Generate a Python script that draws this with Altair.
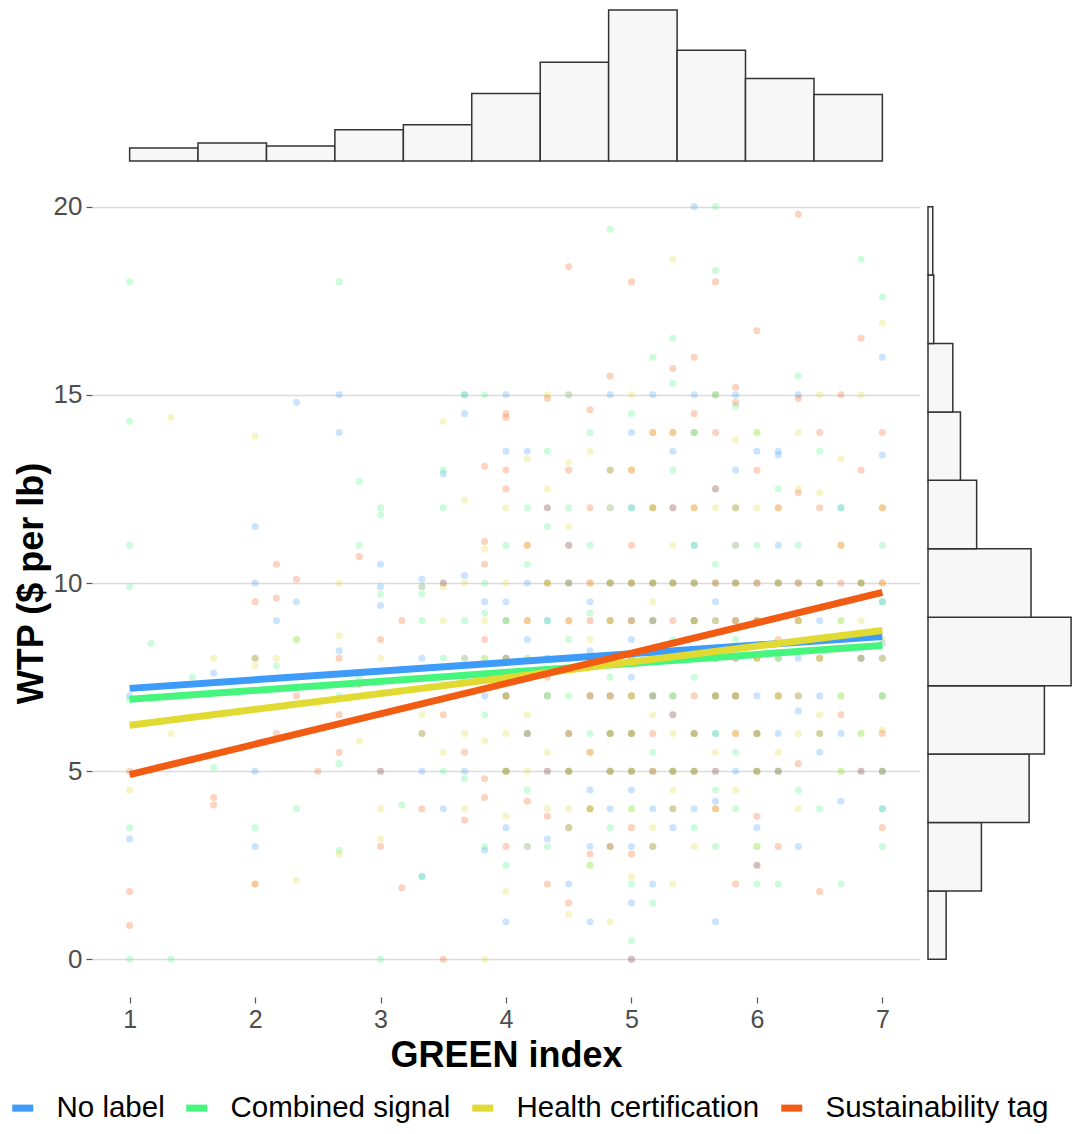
import altair as alt
import pandas as pd

series_names = ["No label", "Combined signal", "Health certification", "Sustainability tag"]
series_colors = ["#3D9BFA", "#45F57D", "#E0DA33", "#F25B12"]

# scatter points: GREEN index -> list of WTP values
no_label_pts = {
    1: [7.0, 3.2], 1.67: [7.6], 2: [11.5, 10, 5, 3], 2.17: [9], 2.33: [14.8, 9.5],
    2.67: [15, 14, 8.2], 3: [10.5, 9.9, 9.4, 5], 3.33: [10.1, 9.9, 8, 5, 2.2],
    3.5: [10, 12.9, 4], 3.67: [15, 14.5, 10.2, 8, 5], 3.83: [9.5, 7, 2.9],
    4: [15, 13.5, 9.5, 9, 8, 7, 5, 3.5, 1], 4.17: [13.5, 10, 8.5, 6, 3],
    4.33: [12, 9, 7, 5, 3.2], 4.5: [15, 11, 10, 8, 6, 5, 2], 4.67: [9.5, 8.2, 7, 4.5, 3, 1],
    4.83: [15, 12, 10, 8, 7, 6, 5, 4, 3], 5: [14, 12, 10, 9, 8.5, 7.5, 6, 5, 4.5, 3, 1.5, 0],
    5.17: [15, 10, 9, 8, 7, 5, 4, 2], 5.33: [13.5, 12, 10, 8, 7, 6.5, 5, 3.5],
    5.5: [20, 15, 14, 11, 10, 9, 8, 6, 5, 4], 5.67: [15, 12.5, 10, 9.5, 8, 7, 6, 5, 4.2, 1],
    5.83: [15, 13, 11, 10, 9, 8, 7, 5], 6: [13.5, 10, 9, 7, 6, 5, 3.5, 2.5],
    6.17: [13.5, 13.4, 11, 10, 8, 6, 5], 6.33: [15, 10, 8, 6.6, 3], 6.5: [10, 9, 7, 5.5],
    6.67: [12, 9.5, 6, 4.2], 6.83: [10, 8, 5], 7: [16, 13.4, 9.5, 8.4, 7, 5, 4],
}
combined_pts = {
    1: [18, 14.3, 11, 9.9, 6.9, 3.5, 0], 1.17: [8.4, 5], 1.33: [0], 1.5: [7.5], 1.67: [5.1],
    2: [8, 3.5], 2.17: [7.8], 2.33: [8.5, 4], 2.67: [18, 7, 5.2, 2.9], 2.83: [12.7, 11, 7.5],
    3: [12, 11.8, 9.7, 0], 3.17: [4.1], 3.33: [9.7, 9, 6, 2.2], 3.5: [13, 12, 8, 5],
    3.67: [15, 9, 7.5, 4.8], 3.83: [15, 10, 9.2, 8, 6.5, 3], 4: [11, 9, 8, 7, 5, 2.5],
    4.17: [12, 10.5, 8, 6, 4.5], 4.33: [13.5, 11.5, 10, 9, 7, 3], 4.5: [12, 10, 8.5, 7, 5, 3.5],
    4.67: [14, 11, 9.2, 8, 6, 4, 2.5], 4.83: [19.4, 13, 10, 9, 7.5, 6, 5, 3.5],
    5: [14.5, 12, 10, 8, 7, 6, 5, 4, 2, 0.5], 5.17: [16, 12, 10, 9, 8, 7, 5.5, 3, 1.5],
    5.33: [16.5, 15.3, 13, 10, 8.5, 7, 5, 4], 5.5: [14, 11, 10, 9, 7.5, 6, 5, 3.5],
    5.67: [20, 18.3, 15, 10.5, 9, 7, 6, 4.5, 3], 5.83: [14.7, 12, 10, 8.5, 7, 5.5, 4],
    6: [14, 11, 9, 8, 6, 5, 3, 2], 6.17: [12.5, 10, 8, 7, 5, 2], 6.33: [15.5, 11, 9, 7, 4.5],
    6.5: [13.5, 10, 8, 6, 4], 6.67: [12, 9, 7, 5, 2], 6.83: [18.6, 10, 8, 6],
    7: [17.6, 11, 9.5, 8, 7, 5, 4, 3],
}
health_pts = {
    1: [4.5], 1.33: [14.4, 6], 1.67: [8, 5.5], 2: [13.9, 7.8, 2], 2.17: [8], 2.33: [8.5, 2.1],
    2.5: [6.8], 2.67: [10, 8.6, 2.8], 2.83: [5.8], 3: [8, 4, 3.2], 3.33: [9.9, 6.5],
    3.5: [14.3, 9.9, 9, 5.5], 3.67: [12.2, 10, 8, 6, 4], 3.83: [10.9, 9, 8, 5.8, 0],
    4: [12, 10, 9, 7, 6, 5, 3.8, 1.8], 4.17: [13.3, 11, 9, 8, 6.5, 5, 3],
    4.33: [15, 12.5, 10, 8, 7, 5.5, 4], 4.5: [15, 13.2, 11.5, 9, 8, 6, 5, 4, 1.2],
    4.67: [13.5, 10, 8.5, 7, 5.5, 4, 2.5], 4.83: [12, 10, 9, 8, 7, 6, 5, 3, 1],
    5: [15, 13, 10, 9, 8, 7, 6, 5, 4, 2.2], 5.17: [14, 12, 10, 9.5, 8, 6.5, 5, 3.5],
    5.33: [18.6, 14, 11, 10, 8, 7, 6, 5, 4.5, 2], 5.5: [14, 12, 10, 9, 8, 6, 5, 3],
    5.67: [15, 12, 10, 8, 7, 5.5, 4], 5.83: [13.8, 11, 10, 9, 7, 6, 4.5],
    6: [14, 12, 10, 9, 8, 6, 5, 3], 6.17: [12, 10, 8, 7, 5.5], 6.33: [14, 12.5, 10, 9, 6, 4],
    6.5: [15, 12.4, 10, 8, 6.5], 6.67: [13.3, 11, 9, 7, 5], 6.83: [15, 10, 9, 6],
    7: [16.9, 12, 10, 8.5, 7, 6.1],
}
sustain_pts = {
    1: [5, 1.8, 0.9], 1.67: [4.3, 4.1], 2: [9.5, 8, 2], 2.17: [10.5, 9.6, 6], 2.33: [10.1, 7],
    2.5: [5], 2.67: [8, 6.5, 5.5], 2.83: [10.7, 7.3], 3: [8.5, 5, 3], 3.17: [9, 1.9],
    3.33: [6, 4], 3.5: [10, 6.5, 0], 3.67: [5.5, 3.7], 3.83: [13.1, 11.1, 10.5, 8.5, 4.8, 4.3],
    4: [14.5, 14.4, 13, 12.5, 8, 7, 5, 3], 4.17: [11, 9, 6, 4.2],
    4.33: [14.9, 12, 10, 8, 7.5, 5, 3.8, 2], 4.5: [18.4, 13, 11, 10, 9, 8, 6, 5, 3.5, 1.5],
    4.67: [14.6, 12, 10, 9, 7, 5.5, 4, 2.8], 4.83: [15.5, 13, 10, 9, 8, 7, 6, 5, 3],
    5: [18, 13, 11, 10, 9, 8, 7, 6, 5, 3.5, 2.8, 0], 5.17: [14, 12, 10, 9, 8, 7, 6, 5, 3],
    5.33: [15.7, 14, 12, 10, 9, 8, 6.5, 5, 4], 5.5: [16, 14.5, 12, 10, 9, 8, 7, 6, 5],
    5.67: [18, 14, 12.5, 10, 9, 8, 7, 5, 4], 5.83: [15.2, 14.8, 12, 10, 9, 8, 7, 6, 2],
    6: [16.7, 13, 10, 9, 8, 6, 5, 3.8, 2.5], 6.17: [12, 10, 8.5, 7, 5, 3],
    6.33: [19.8, 14.9, 12.4, 10, 9, 7, 5.2], 6.5: [14, 12, 10, 8, 6, 1.8],
    6.67: [15, 11, 10, 8.5, 6.5], 6.83: [16.5, 13, 10, 8, 5], 7: [14, 12, 10, 8, 6, 5, 3.5],
}

# fitted lines (endpoints at GREEN index 1 and 7)
line_x = [1, 7]
line_y_start = [7.20, 6.91, 6.22, 4.91]
line_y_end = [8.58, 8.34, 8.74, 9.75]

# marginal histograms
x_bin_edges = [1.0, 1.545, 2.091, 2.636, 3.182, 3.727, 4.273, 4.818, 5.364, 5.909, 6.455, 7.0]
x_counts = [13, 18, 15, 31, 36, 67, 98, 150, 110, 82, 66]
y_bin_edges = [0, 1.818, 3.636, 5.455, 7.273, 9.091, 10.909, 12.727, 14.545, 16.364, 18.182, 20]
y_counts = [19, 56, 106, 122, 150, 108, 51, 34, 26, 6, 5]

# ---- tables ----
rows = []
for name, d in zip(series_names, [no_label_pts, combined_pts, health_pts, sustain_pts]):
    for gx, ys in d.items():
        for gy in ys:
            rows.append({"series": name, "green": gx, "wtp": gy})
pts_df = pd.DataFrame(rows)

lrows = []
for name, y0, y1 in zip(series_names, line_y_start, line_y_end):
    lrows.append({"series": name, "green": line_x[0], "wtp": y0})
    lrows.append({"series": name, "green": line_x[1], "wtp": y1})
line_df = pd.DataFrame(lrows)

xh_df = pd.DataFrame({"start": x_bin_edges[:-1], "end": x_bin_edges[1:], "count": x_counts, "zero": 0})
yh_df = pd.DataFrame({"start": y_bin_edges[:-1], "end": y_bin_edges[1:], "count": y_counts, "zero": 0})

FONT = "Liberation Sans"
W = 828
H = 828
xscale = alt.Scale(domain=[0.7, 7.3], nice=False, zero=False)
yscale = alt.Scale(domain=[-1, 21], nice=False, zero=False)
cscale = alt.Scale(domain=series_names, range=series_colors)

xaxis = alt.Axis(values=[1, 2, 3, 4, 5, 6, 7], format="d", title="GREEN index", grid=False,
                 domain=False, tickColor="#555555", tickSize=6, tickWidth=1.2,
                 labelFontSize=25, labelColor="#4D4D4D", labelPadding=4,
                 titleFontSize=36, titleFontWeight="bold", titleColor="black", titlePadding=6)
yaxis = alt.Axis(values=[0, 5, 10, 15, 20], format="d", title="WTP ($ per lb)", grid=True,
                 gridColor="#DCDCDC", gridWidth=1.4, domain=False, tickColor="#555555",
                 tickSize=6, tickWidth=1.2, labelFontSize=26, labelColor="#4D4D4D", labelPadding=4,
                 titleFontSize=36, titleFontWeight="bold", titleColor="black", titlePadding=3)

legend = alt.Legend(title=None, orient="none", legendX=-84, legendY=1085, direction="horizontal",
                    symbolType="stroke", symbolStrokeWidth=7, symbolSize=441, symbolOpacity=1,
                    labelFontSize=29.5, labelColor="black", labelFont=FONT, labelOffset=19,
                    columnPadding=7, labelLimit=400)

color_enc = alt.Color("series:N", scale=cscale, legend=legend, sort=series_names)

points = alt.Chart(pts_df).mark_circle(size=50, opacity=0.27).encode(
    x=alt.X("green:Q", scale=xscale, axis=xaxis),
    y=alt.Y("wtp:Q", scale=yscale, axis=yaxis),
    color=color_enc,
)

lines = alt.Chart(line_df).mark_line(strokeWidth=7, strokeCap="butt").encode(
    x=alt.X("green:Q", scale=xscale, axis=xaxis),
    y=alt.Y("wtp:Q", scale=yscale, axis=yaxis),
    color=color_enc,
)

main = alt.layer(points, lines).properties(width=W, height=H)

top = alt.Chart(xh_df).mark_rect(fill="#F7F7F7", stroke="#333333", strokeWidth=1.5).encode(
    x=alt.X("start:Q", scale=xscale, axis=None),
    x2="end:Q",
    y=alt.Y("count:Q", scale=alt.Scale(domain=[0, 152], nice=False), axis=None),
    y2="zero:Q",
).properties(width=W, height=153)

right = alt.Chart(yh_df).mark_rect(fill="#F7F7F7", stroke="#333333", strokeWidth=1.5).encode(
    y=alt.Y("start:Q", scale=yscale, axis=None),
    y2="end:Q",
    x=alt.X("count:Q", scale=alt.Scale(domain=[0, 152], nice=False), axis=None),
    x2="zero:Q",
).properties(width=145, height=H)

chart = alt.vconcat(
    top,
    alt.hconcat(main, right, spacing=8, bounds="flush"),
    spacing=8, bounds="flush",
).properties(padding=0).configure(font=FONT).configure_view(stroke=None)

chart.save("out.html", embed_options={"renderer": "svg", "actions": False})
